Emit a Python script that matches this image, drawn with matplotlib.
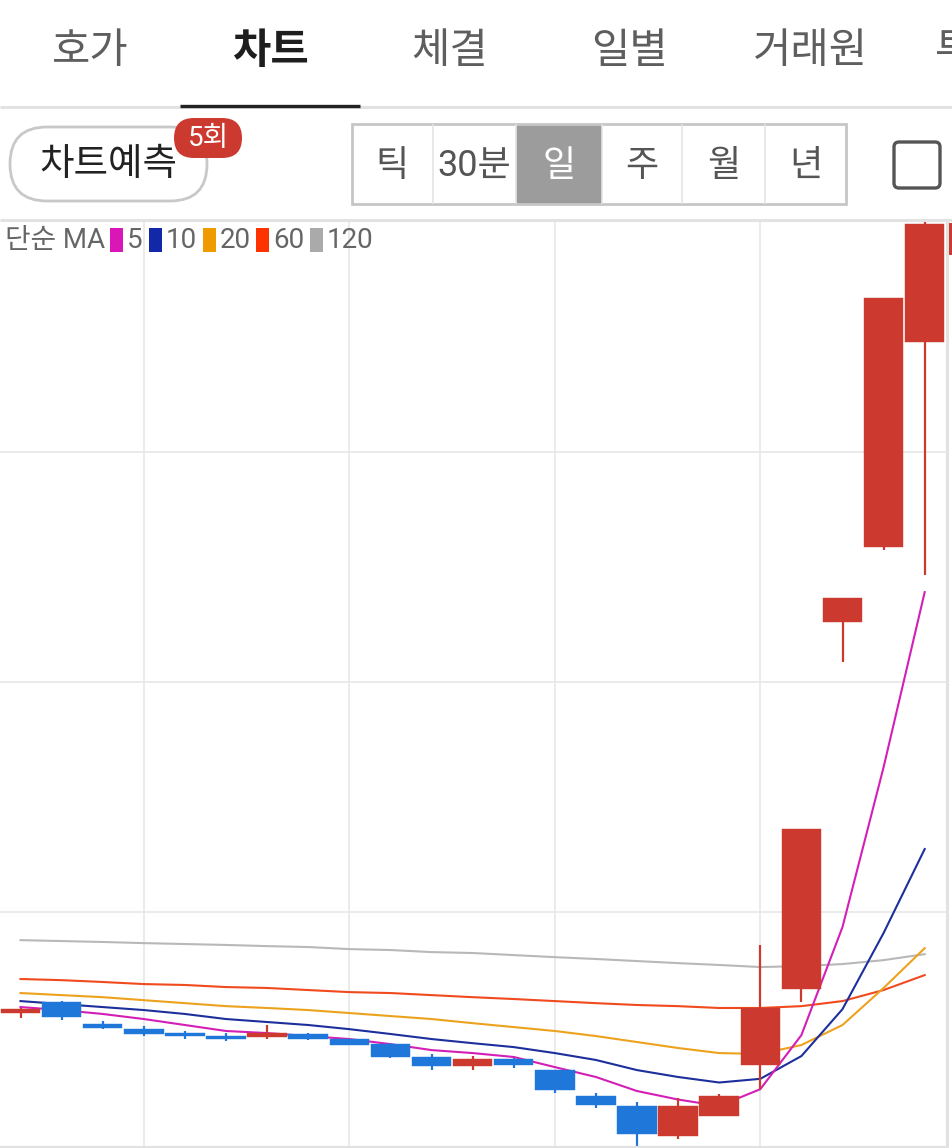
import matplotlib
matplotlib.use("Agg")
import matplotlib.pyplot as plt
from matplotlib.patches import Rectangle, FancyBboxPatch

plt.rcParams['font.family'] = ['Roboto', 'Noto Sans CJK KR', 'DejaVu Sans']

# ---------------- data ----------------
tabs = ["호가", "차트", "체결", "일별", "거래원", "투"]
active_tab = "차트"
periods = ["틱", "30분", "일", "주", "월", "년"]
selected_period = "일"
predict_label = "차트예측"
predict_badge = "5회"
ma_title = "단순 MA"
ma_labels = ["5", "10", "20", "60", "120"]

open_ = [2560, 2610, 2515, 2490, 2475, 2460, 2455, 2470, 2450, 2425, 2370, 2330,
         2360, 2315, 2200, 2155, 2025, 2115, 2335, 2665, 4260, 4585, 5480]
high = [2585, 2615, 2525, 2505, 2485, 2475, 2510, 2475, 2450, 2430, 2385, 2375,
        2365, 2315, 2215, 2175, 2190, 2210, 2855, 3360, 4365, 5670, 6010]
low = [2540, 2530, 2490, 2460, 2450, 2440, 2450, 2445, 2420, 2365, 2315, 2315,
       2320, 2215, 2150, 1985, 2015, 2115, 2230, 2610, 4085, 4575, 4465]
close = [2580, 2545, 2495, 2470, 2460, 2450, 2475, 2450, 2420, 2370, 2330, 2360,
         2335, 2225, 2160, 2035, 2155, 2200, 2585, 3360, 4365, 5670, 5990]

ma5 = [2587, 2574, 2557, 2535, 2509, 2483, 2474, 2461, 2448, 2426, 2400, 2387,
       2370, 2326, 2283, 2222, 2185, 2157, 2230, 2465, 2935, 3630, 4391]
ma10 = [2613, 2600, 2587, 2574, 2557, 2535, 2522, 2509, 2491, 2470, 2448, 2430,
        2413, 2387, 2357, 2313, 2283, 2259, 2275, 2374, 2578, 2909, 3274]
ma20 = [2648, 2639, 2630, 2617, 2604, 2591, 2583, 2574, 2561, 2548, 2535, 2517,
        2500, 2483, 2461, 2435, 2409, 2387, 2383, 2422, 2509, 2670, 2843]
ma60 = [2709, 2704, 2696, 2687, 2683, 2674, 2670, 2661, 2652, 2648, 2639, 2630,
        2622, 2613, 2604, 2596, 2591, 2583, 2583, 2591, 2613, 2661, 2726]
ma120 = [2878, 2874, 2870, 2865, 2861, 2857, 2852, 2848, 2839, 2835, 2826, 2822,
         2813, 2804, 2796, 2787, 2778, 2770, 2761, 2765, 2774, 2791, 2817]

# ---------------- style ----------------
W, H, DPI = 952, 1148, 100
UP = "#cc3a2f"
DOWN = "#1f78d9"
ma_line_colors = ["#d41fb6", "#1c2f9c", "#eda21e", "#f04a1e", "#b8b8b8"]
ma_swatch_colors = ["#d916b6", "#1228a8", "#ef9a00", "#ff3300", "#aaaaaa"]
CJK = ['Noto Sans CJK KR', 'DejaVu Sans']

fig = plt.figure(figsize=(W / DPI, H / DPI), dpi=DPI)
fig.patch.set_facecolor("white")

# chart axes (pixel box: x 0..946, y 222..1146)
cx0, cx1, cy0, cy1 = 0, 946, 222, 1146
step, first = 41.1, 20.5
ax = fig.add_axes([cx0 / W, (H - cy1) / H, (cx1 - cx0) / W, (cy1 - cy0) / H])
ax.set_facecolor("white")
n = len(close)
idx = list(range(n))
ax.set_xlim(-first / step, (cx1 - first) / step)
ax.set_ylim(1983, 6000)
ax.set_xticks([3, 8, 13, 18])
ax.set_yticks([3000, 4000, 5000])
ax.grid(True, color="#e6e6e6", lw=1.1)
ax.tick_params(length=0, labelbottom=False, labelleft=False)
for s in ax.spines.values():
    s.set_visible(False)

ma_series = [ma5, ma10, ma20, ma60, ma120]
for series, col in zip(ma_series[::-1], ma_line_colors[::-1]):
    ax.plot(idx, series, color=col, lw=1.5, zorder=2, solid_joinstyle="round")

for i in idx:
    o, h, l, c = open_[i], high[i], low[i], close[i]
    col = UP if c >= o else DOWN
    ax.vlines(i, l, h, color=col, lw=1.6, zorder=3)
    ax.bar(i, max(abs(c - o), 4), bottom=min(o, c), width=0.96, color=col,
           edgecolor=col, lw=0.3, zorder=4)

# ---------------- UI overlay ----------------
ui = fig.add_axes([0, 0, 1, 1], zorder=5)
ui.set_xlim(0, W)
ui.set_ylim(H, 0)
ui.axis("off")
ui.patch.set_alpha(0)

tab_x = [90, 270, 450, 630, 810, 935]
for t, x in zip(tabs, tab_x):
    active = t == active_tab
    ha = "left" if x > 900 else "center"
    ui.text(x, 51, t, ha=ha, va="center", fontsize=30,
            color="#1e1e1e" if active else "#5e5e5e",
            fontweight="bold" if active else "normal", family=CJK)

ui.plot([0, W], [107, 107], color="#e2e2e2", lw=2.2, solid_capstyle="butt")
ui.plot([180, 360], [106, 106], color="#222222", lw=2.4, solid_capstyle="butt")

# predict pill
ui.add_patch(FancyBboxPatch((10, 127), 197, 74, boxstyle="round,pad=0,rounding_size=37",
                            fc="white", ec="#c8c8c8", lw=2.0))
ui.text(108, 164, predict_label, ha="center", va="center", fontsize=27, color="#222222",
        family=CJK)
ui.add_patch(FancyBboxPatch((174, 118), 68, 40, boxstyle="round,pad=0,rounding_size=20",
                            fc=UP, ec="none"))
ui.text(208, 139, predict_badge, ha="center", va="center", fontsize=20, color="white")

# period segmented control
edges = [351, 433, 516, 602, 682, 765, 847]
sel = periods.index(selected_period)
ui.add_patch(Rectangle((edges[sel], 124), edges[sel + 1] - edges[sel], 80,
                       fc="#9c9c9c", ec="none"))
for e in edges[1:-1]:
    ui.plot([e, e], [125, 203], color="#e4e4e4", lw=1.2)
ui.add_patch(Rectangle((352, 124), 494, 80, fc="none", ec="#c6c6c6", lw=2.0))
for k, p in enumerate(periods):
    xc = (edges[k] + edges[k + 1]) / 2
    ui.text(xc, 166, p, ha="center", va="center", fontsize=26,
            color="white" if k == sel else "#555555")

# checkbox
ui.add_patch(FancyBboxPatch((894, 142), 46, 46, boxstyle="round,pad=0,rounding_size=5",
                            fc="none", ec="#555555", lw=2.4))

# chart borders
ui.plot([0, W], [219.5, 219.5], color="#e2e2e2", lw=2.2, solid_capstyle="butt")
ui.plot([946.5, 946.5], [219, H], color="#e2e2e2", lw=2.2, solid_capstyle="butt")
ui.plot([0, 946], [1146.5, 1146.5], color="#e2e2e2", lw=1.6, solid_capstyle="butt")
ui.add_patch(Rectangle((948, 223), 4, 32, fc=UP, ec="none"))

# MA legend
ui.text(5, 241, ma_title, ha="left", va="center", fontsize=20, color="#666666")
sw_x = [110, 149, 203, 256, 310]
for lab, col, x in zip(ma_labels, ma_swatch_colors, sw_x):
    ui.add_patch(Rectangle((x, 228), 13, 24, fc=col, ec="none"))
    ui.text(x + 17, 241, lab, ha="left", va="center", fontsize=20, color="#666666")

fig.savefig("out.png", dpi=DPI, facecolor="white")
